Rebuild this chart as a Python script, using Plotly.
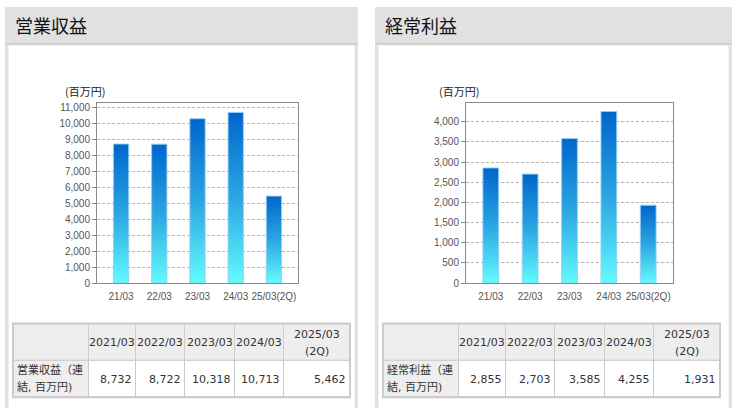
import plotly.graph_objects as go

W, H = 735, 414

# ---------------- data ----------------
categories = ["21/03", "22/03", "23/03", "24/03", "25/03(2Q)"]
table_periods = ["2021/03", "2022/03", "2023/03", "2024/03", "2025/03<br>(2Q)"]

revenue_title = "営業収益"
revenue_row_label = "営業収益（連<br>結, 百万円)"
revenue_values = [8732, 8722, 10318, 10713, 5462]

ordinary_title = "経常利益"
ordinary_row_label = "経常利益（連<br>結, 百万円)"
ordinary_values = [2855, 2703, 3585, 4255, 1931]

unit_label = "(百万円)"


def px(x):
    return x / W


def py(y):
    return 1 - y / H


BAR_SCALE = [[0, "#62fbff"], [0.5, "#2ba6e2"], [1, "#0066cc"]]
BAR_W = 0.4
COL_W = [75, 47, 49, 50, 49, 66]
ROW_TOP, ROW_MID, ROW_BOT = 328, 365, 402
LINE_GAP = 17.5
TABLE_FONT = dict(family="DejaVu Sans, Noto Sans CJK JP", size=11, color="#333333")

fig = go.Figure()

panels = [
    dict(title=revenue_title, row=revenue_row_label, vals=revenue_values,
         left=5, right=358, plot=(97, 298), unit_x=63, yr=11290, dtick=1000,
         ax="x", ay="y"),
    dict(title=ordinary_title, row=ordinary_row_label, vals=ordinary_values,
         left=375, right=732, plot=(466, 673), unit_x=437, yr=4460, dtick=500,
         ax="x2", ay="y2"),
]

shapes = []
annotations = []


def cell_text(text, x, anchor, yc):
    lines = text.split("<br>")
    n = len(lines)
    for j, ln in enumerate(lines):
        annotations.append(dict(xref="x3", yref="y3", x=x, y=yc + (j - (n - 1) / 2) * LINE_GAP,
                                xanchor=anchor, yanchor="middle", showarrow=False,
                                text=ln, font=TABLE_FONT))


for i, p in enumerate(panels):
    L, R = p["left"], p["right"]
    # header band
    shapes.append(dict(type="rect", xref="paper", yref="paper", layer="below",
                       x0=px(L), x1=px(R), y0=py(42), y1=py(6),
                       fillcolor="#e1e1e1", line=dict(width=0)))
    shapes.append(dict(type="rect", xref="paper", yref="paper", layer="below",
                       x0=px(L), x1=px(R), y0=py(45), y1=py(42),
                       fillcolor="#d2d2d2", line=dict(width=0)))
    # body side borders
    shapes.append(dict(type="rect", xref="paper", yref="paper", layer="below",
                       x0=px(L), x1=px(L + 3.5), y0=0, y1=py(45),
                       fillcolor="#e1e1e1", line=dict(width=0)))
    shapes.append(dict(type="rect", xref="paper", yref="paper", layer="below",
                       x0=px(R - 3.5), x1=px(R), y0=0, y1=py(45),
                       fillcolor="#e1e1e1", line=dict(width=0)))
    # title
    annotations.append(dict(xref="paper", yref="paper", x=px(L + 8), y=py(24),
                            xanchor="left", yanchor="middle", showarrow=False,
                            text=p["title"],
                            font=dict(family="Noto Sans CJK JP", size=18, color="#111111")))
    # unit label
    annotations.append(dict(xref="paper", yref="paper", x=px(p["unit_x"]), y=py(92),
                            xanchor="left", yanchor="middle", showarrow=False,
                            text=unit_label,
                            font=dict(family="Noto Sans CJK JP", size=11, color="#222222")))

    # bars: gradient-filled rectangles drawn on the data axes
    for k, v in enumerate(p["vals"]):
        x0, x1 = k - BAR_W / 2, k + BAR_W / 2
        fig.add_trace(go.Scatter(
            x=[x0, x0, x1, x1, x0], y=[0, v, v, 0, 0],
            xaxis=p["ax"], yaxis=p["ay"], mode="lines", fill="toself",
            fillgradient=dict(type="vertical", colorscale=BAR_SCALE),
            line=dict(color="rgba(150,205,245,0.9)", width=1),
            hoverinfo="skip", showlegend=False))

    # table drawn on a pixel-unit helper axis (x3/y3)
    header_vals = [""] + table_periods
    body_vals = [p["row"]] + [f"{v:,}" for v in p["vals"]]
    cx = L + 8
    for c, w in enumerate(COL_W):
        xa, xb = cx + 0.5, cx + w + 0.5
        shapes.append(dict(type="rect", xref="x3", yref="y3", layer="above",
                           x0=xa, x1=xb, y0=ROW_TOP + 0.5, y1=ROW_MID + 0.5,
                           fillcolor="#eeeeee", line=dict(color="#cccccc", width=1)))
        shapes.append(dict(type="rect", xref="x3", yref="y3", layer="above",
                           x0=xa, x1=xb, y0=ROW_MID + 0.5, y1=ROW_BOT + 0.5,
                           fillcolor="#eeeeee" if c == 0 else "#ffffff",
                           line=dict(color="#cccccc", width=1)))
        if header_vals[c]:
            cell_text(header_vals[c], cx + w / 2 + 0.5, "center", (ROW_TOP + ROW_MID) / 2 + 1)
        if c == 0:
            cell_text(body_vals[c], cx + 2, "left", (ROW_MID + ROW_BOT) / 2 + 1)
        else:
            cell_text(body_vals[c], cx + w - 1, "right", (ROW_MID + ROW_BOT) / 2 + 1)
        cx += w
    shapes.append(dict(type="rect", xref="x3", yref="y3", layer="above",
                       x0=L + 8, x1=cx + 1, y0=ROW_TOP, y1=ROW_BOT + 1,
                       line=dict(color="#cccccc", width=2)))

axis_font = dict(family="Liberation Sans, Arial", size=10, color="#555555")

layout = dict(
    width=W, height=H, margin=dict(l=0, r=0, t=0, b=0),
    paper_bgcolor="#ffffff", plot_bgcolor="rgba(0,0,0,0)",
    showlegend=False, shapes=shapes, annotations=annotations,
    xaxis3=dict(domain=[0, 1], range=[0, W], visible=False, fixedrange=True, anchor="y3"),
    yaxis3=dict(domain=[0, 1], range=[H, 0], visible=False, fixedrange=True, anchor="x3"),
)

for i, p in enumerate(panels):
    xs = "xaxis" if i == 0 else "xaxis2"
    ys = "yaxis" if i == 0 else "yaxis2"
    layout[xs] = dict(domain=[px(p["plot"][0]), px(p["plot"][1])],
                      anchor=p["ay"], range=[-0.63, 4.63],
                      tickmode="array", tickvals=list(range(len(categories))),
                      ticktext=categories, showgrid=False, zeroline=False,
                      showline=True, linecolor="#8a8a8a", linewidth=1, mirror=True,
                      ticks="", ticklabelstandoff=4, tickfont=axis_font, fixedrange=True)
    layout[ys] = dict(domain=[py(287), py(104)], anchor=p["ax"],
                      range=[0, p["yr"]], dtick=p["dtick"], tick0=0,
                      tickformat=",d", showgrid=True, gridcolor="#b4b4b4",
                      griddash="3px,2px", gridwidth=1, zeroline=False,
                      showline=True, linecolor="#8a8a8a", linewidth=1, mirror=True,
                      ticks="outside", ticklen=4, tickcolor="#8a8a8a",
                      tickfont=axis_font, fixedrange=True)

fig.update_layout(**layout)
fig.add_trace(go.Scatter(x=[], y=[], xaxis="x3", yaxis="y3", showlegend=False, hoverinfo="skip"))
fig.write_html("out.html")
